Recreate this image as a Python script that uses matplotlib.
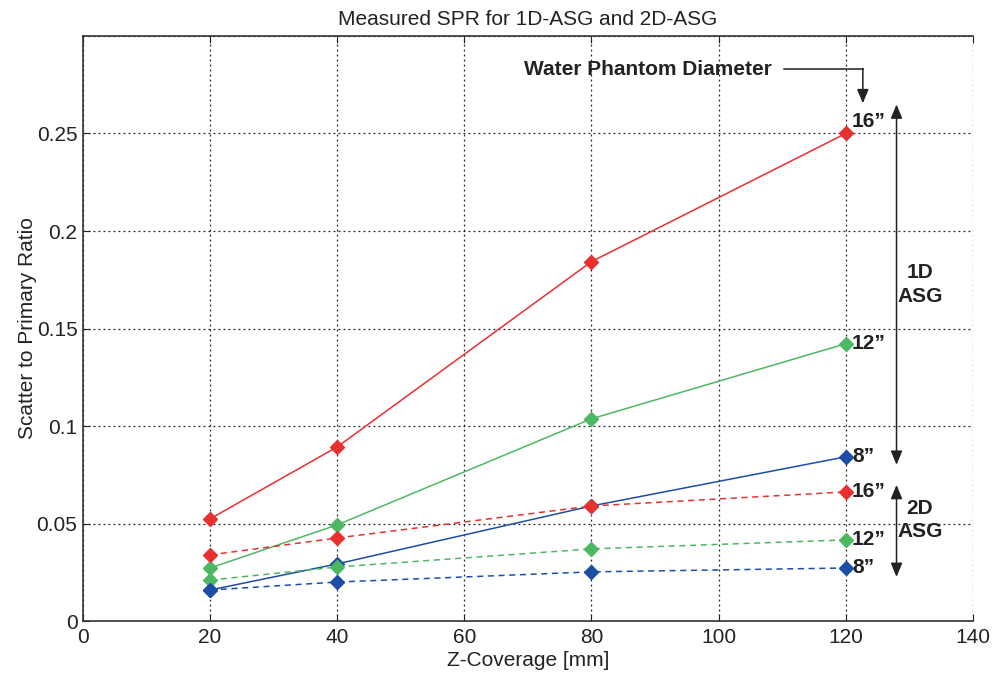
import matplotlib.pyplot as plt

plt.rcParams['font.family'] = ['Liberation Sans', 'DejaVu Sans']

z_coverage = [20, 40, 80, 120]

# 1D ASG (solid)
spr_1d_16 = [0.0524, 0.0893, 0.1843, 0.2500]
spr_1d_12 = [0.0272, 0.0493, 0.1037, 0.1422]
spr_1d_8 = [0.0159, 0.0293, 0.0590, 0.0842]

# 2D ASG (dashed)
spr_2d_16 = [0.0339, 0.0426, 0.0590, 0.0662]
spr_2d_12 = [0.0210, 0.0277, 0.0370, 0.0416]
spr_2d_8 = [0.0159, 0.0200, 0.0252, 0.0272]

rojo = '#e8302f'
verde = '#4db862'
azul = '#1c4ea6'
tinta = '#222222'

fig = plt.figure(figsize=(10.06, 6.74), dpi=100)
ax = fig.add_axes([0.0825, 0.0786, 0.8845, 0.868])

series = [
    (spr_1d_16, rojo, '-', '16”'),
    (spr_1d_12, verde, '-', '12”'),
    (spr_1d_8, azul, '-', '8”'),
    (spr_2d_16, rojo, '--', '16”'),
    (spr_2d_12, verde, '--', '12”'),
    (spr_2d_8, azul, '--', '8”'),
]
for valores, color, estilo, etiqueta in series:
    ax.plot(z_coverage, valores, color=color, linestyle=estilo, linewidth=1.1,
            marker='D', markersize=7.5, markeredgecolor=color, markerfacecolor=color,
            dashes=(4, 3) if estilo == '--' else (None, None), zorder=3)
    y_txt = valores[-1] + (0.006 if valores is spr_1d_16 else 0)
    ax.text(z_coverage[-1] + 1.0, y_txt, etiqueta, fontsize=15, fontweight='bold',
            ha='left', va='center', color=tinta)

ax.set_xlim(0, 140)
ax.set_ylim(0, 0.3)
ax.set_xticks(range(0, 141, 20))
ax.set_yticks([0, 0.05, 0.1, 0.15, 0.2, 0.25])
ax.set_yticklabels(['0', '0.05', '0.1', '0.15', '0.2', '0.25'])
ax.set_yticks([0.3], minor=True)
ax.grid(True, which='both', linestyle=(0, (1.5, 2.5)), color=tinta, linewidth=0.9)
ax.tick_params(direction='in', labelsize=15, length=5, colors=tinta, which='major', pad=4)
ax.tick_params(which='minor', length=0)
ax.tick_params(axis='x', top=True, pad=5)
ax.spines['right'].set_visible(False)
for s in ['left', 'bottom', 'top']:
    ax.spines[s].set_color('#333333')
    ax.spines[s].set_linewidth(1.2)

ax.set_title('Measured SPR for 1D-ASG and 2D-ASG', fontsize=15, color=tinta, pad=8)
ax.set_xlabel('Z-Coverage [mm]', fontsize=15, color=tinta, labelpad=3)
ax.set_ylabel('Scatter to Primary Ratio', fontsize=15, color=tinta, labelpad=0)

# anotaciones
ax.text(88.9, 0.2829, 'Water Phantom Diameter', fontsize=15, fontweight='bold',
        ha='center', va='center', color=tinta)
ax.plot([110.3, 122.7], [0.2829, 0.2829], color=tinta, linewidth=1.1)
ax.annotate('', xy=(122.7, 0.2655), xytext=(122.7, 0.2834),
            arrowprops=dict(arrowstyle='-|>,head_length=0.6,head_width=0.25', color=tinta,
                            lw=1.1, mutation_scale=14, shrinkA=0, shrinkB=0))

ax.annotate('', xy=(128.0, 0.0801), xytext=(128.0, 0.2649),
            arrowprops=dict(arrowstyle='<|-|>,head_length=0.6,head_width=0.25', color=tinta,
                            lw=1.1, mutation_scale=14, shrinkA=0, shrinkB=0))
ax.annotate('', xy=(128.0, 0.0226), xytext=(128.0, 0.0698),
            arrowprops=dict(arrowstyle='<|-|>,head_length=0.6,head_width=0.25', color=tinta,
                            lw=1.1, mutation_scale=14, shrinkA=0, shrinkB=0))
ax.text(131.7, 0.1725, '1D\nASG', fontsize=15, fontweight='bold', ha='center', va='center',
        color=tinta, linespacing=1.3)
ax.text(131.7, 0.0518, '2D\nASG', fontsize=15, fontweight='bold', ha='center', va='center',
        color=tinta, linespacing=1.3)

fig.savefig('out.png', dpi=100)
